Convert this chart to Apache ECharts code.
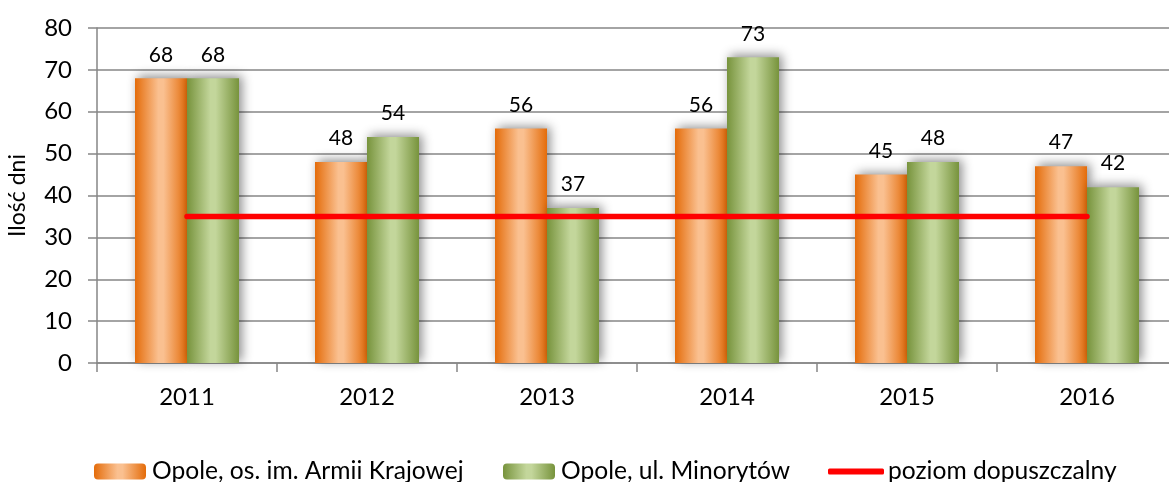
<!DOCTYPE html>
<html><head><meta charset="utf-8">
<script src="https://cdn.jsdelivr.net/npm/echarts@6/dist/echarts.min.js"></script>
<style>html,body{margin:0;padding:0;background:#fff}#c{width:1169px;height:482px}</style>
</head><body><div id="c"></div>
<script>
const categories = ['2011','2012','2013','2014','2015','2016'];
const armiiKrajowej = [68,48,56,56,45,47];
const minorytow = [68,54,37,73,48,42];
const poziom = [35,35,35,35,35,35];
const seriesNames = ['Opole, os. im. Armii Krajowej','Opole, ul. Minorytów','poziom dopuszczalny'];
const yTicks = {min:0,max:80,interval:10};

const FONT = 'Lato, "Open Sans", sans-serif';
function hgrad(edge, mid){
  return {type:'linear',x:0,y:0,x2:1,y2:0,colorStops:[
    {offset:0,color:edge},{offset:0.45,color:mid},{offset:0.55,color:mid},{offset:1,color:edge}]};
}
const orange = hgrad('#E46C0A','#FAC090');
const green = hgrad('#77933C','#C3D69B');
const shadow = {shadowColor:'rgba(0,0,0,0.45)',shadowBlur:10,shadowOffsetX:3,shadowOffsetY:-2};
const labelStyle = {show:true,position:'top',distance:13,color:'#000',fontSize:21,fontFamily:FONT};
const legendText = {fontSize:24.6,fontFamily:FONT,color:'#000'};

const chart = echarts.init(document.getElementById('c'),null,{renderer:'canvas'});
chart.setOption({
  animation:false,
  grid:{left:97,width:1080,top:28,height:335,containLabel:false,outerBoundsMode:'none'},
  legend:[
    {left:94,top:459,padding:0,itemWidth:52,itemHeight:16,textStyle:Object.assign({padding:[0,0,0,1]},legendText),data:[seriesNames[0]]},
    {left:503,top:459,padding:0,itemWidth:52,itemHeight:16,textStyle:Object.assign({padding:[0,0,0,1]},legendText),data:[seriesNames[1]]},
    {left:828,top:459,padding:0,itemWidth:56,itemHeight:6,icon:'roundRect',textStyle:Object.assign({padding:[0,0,0,-1]},legendText),data:[seriesNames[2]]}
  ],
  xAxis:{type:'category',data:categories,
    axisLine:{lineStyle:{color:'#868686',width:1.5}},
    axisTick:{show:true,length:9,lineStyle:{color:'#868686',width:1.5}},
    axisLabel:{color:'#000',fontSize:24,fontFamily:FONT,margin:22}},
  yAxis:{type:'value',min:yTicks.min,max:yTicks.max,interval:yTicks.interval,
    name:'Ilość dni',nameLocation:'middle',nameGap:68,
    nameTextStyle:{fontSize:23,fontFamily:FONT,color:'#000'},
    axisLine:{show:true,lineStyle:{color:'#868686',width:1.5}},
    axisTick:{show:true,length:9,lineStyle:{color:'#868686',width:1.5}},
    splitLine:{lineStyle:{color:'#868686',width:1.5}},
    axisLabel:{color:'#000',fontSize:24,fontFamily:FONT,margin:25}},
  series:[
    {name:seriesNames[0],type:'bar',data:armiiKrajowej,barWidth:52,barGap:'0%',
      itemStyle:Object.assign({color:orange},shadow),label:labelStyle},
    {name:seriesNames[1],type:'bar',data:minorytow,barWidth:52,barGap:'0%',
      itemStyle:Object.assign({color:green},shadow),label:labelStyle},
    {name:seriesNames[2],type:'line',data:poziom,symbol:'none',z:5,
      itemStyle:{color:'#FF0000'},
      lineStyle:{color:'#FF0000',width:5.5,cap:'round'}}
  ]
});
</script></body></html>
